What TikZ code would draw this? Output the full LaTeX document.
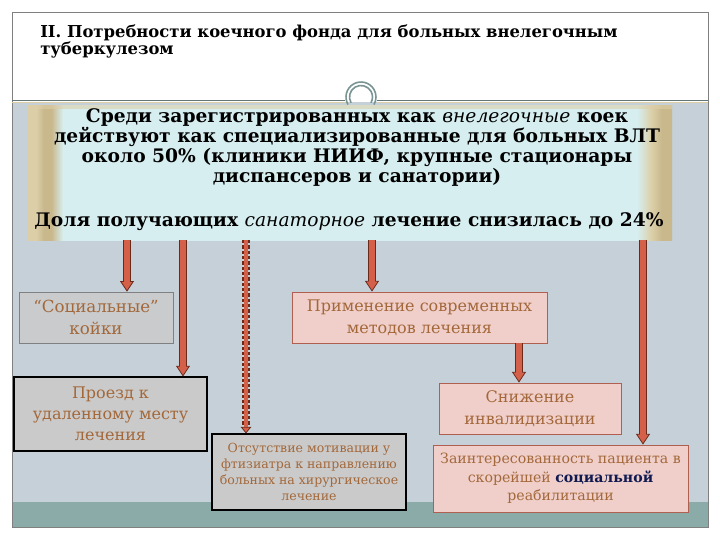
\documentclass[tikz,border=0pt]{standalone}
\usepackage{fontspec}
\setmainfont{DejaVu Serif}
\usetikzlibrary{arrows.meta,fit}
\definecolor{panelbg}{HTML}{C5D0D8}
\definecolor{bandbg}{HTML}{8BABA9}
\definecolor{framegray}{HTML}{808080}
\definecolor{txtbrown}{HTML}{A3683A}
\definecolor{pinkfill}{HTML}{F0CFCB}
\definecolor{pinkedge}{HTML}{B06050}
\definecolor{grayfill}{HTML}{CACACA}
\definecolor{arrred}{HTML}{D5604A}
\definecolor{arrdark}{HTML}{6A2A1A}
\definecolor{beige}{HTML}{DCCFA8}
\definecolor{tan}{HTML}{C9B88C}
\definecolor{lcyan}{HTML}{D6EEF0}
\definecolor{ornament}{HTML}{7A9494}
\definecolor{navy}{HTML}{101A50}
\pgfdeclarehorizontalshading{topshade}{100bp}{color(0bp)=(beige); color(25bp)=(beige); color(25.7bp)=(beige); color(26.3bp)=(tan); color(26.9bp)=(tan); color(27.8bp)=(lcyan); color(72.3bp)=(lcyan); color(73.4bp)=(beige); color(74.2bp)=(tan); color(100bp)=(tan)}
\tikzset{
  graybox/.style={draw=black, fill=grayfill, line width=0.8pt, inner sep=0pt},
  lightbox/.style={draw=framegray, fill=grayfill!80!panelbg, line width=0.5pt, inner sep=0pt},
  pinkbox/.style={draw=pinkedge, fill=pinkfill, line width=0.6pt, inner sep=0pt},
  boxtext/.style={align=center, inner sep=0pt, text=txtbrown},
  fatout/.style={draw=arrdark, line width=6pt, -{Triangle[width=10.5pt,length=8pt,line width=0.6pt,fill=arrred]}},
  fatin/.style={draw=arrred, line width=4.5pt, shorten >=7.4pt},
  dashout/.style={draw=arrdark, line width=6pt, dash pattern=on 2.5pt off 1.5pt, -{Triangle[width=8pt,length=5pt,line width=0.6pt,fill=arrred]}},
  dashin/.style={draw=arrred, line width=3.5pt, shorten >=5pt}
}
\begin{document}
\begin{tikzpicture}[x=0.75pt,y=-0.75pt]
\useasboundingbox (0,0) rectangle (720,540);
\fill[white] (0,0) rectangle (720,540);
% panel and band
\fill[panelbg] (12,102) rectangle (708,527);
\fill[bandbg] (12,502) rectangle (708,527);
% frame
\draw[framegray, line width=0.7pt] (12,12) rectangle (708,527);
% top separator with ornament
\draw[ornament!80!black, line width=0.6pt] (12,100) -- (345,100);
\draw[ornament!80!black, line width=0.6pt] (377,100) -- (708,100);
\draw[beige, line width=1.2pt] (12,102.5) -- (345,102.5);
\draw[beige, line width=1.2pt] (377,102.5) -- (708,102.5);
\draw[ornament, line width=1.2pt] (361,97) ++(150:15) arc[start angle=150, end angle=390, radius=15];
\draw[ornament, line width=1.2pt] (361,97) ++(150:11.5) arc[start angle=150, end angle=390, radius=11.5];
% title
\node[anchor=north west, align=left, inner sep=0pt, font=\fontsize{12.3}{12}\selectfont\bfseries] (title) at (40,24)
 {II. Потребности коечного фонда для больных внелегочным\\туберкулезом};
% top text box
\node[fit={(27,105) (672,240)}, inner sep=0pt, shading=topshade] (topbox) {};
\fill[beige, opacity=0.6] (27,105) rectangle (672,109);
\node[align=center, inner sep=0pt, font=\fontsize{14}{15}\selectfont\bfseries] (toptext) at (357,148)
 {Среди зарегистрированных как \textit{\mdseries внелегочные} коек\\
  действуют как специализированные для больных ВЛТ\\
  около 50\% (клиники НИИФ, крупные стационары\\
  диспансеров и санатории)};
\node[inner sep=0pt, font=\fontsize{14}{15}\selectfont\bfseries] (toptext2) at (349,222)
 {Доля получающих \textit{\mdseries санаторное} лечение снизилась до 24\%};
% boxes
\node[lightbox, fit={(19,292) (173,343)}] (social) {};
\node[boxtext, font=\fontsize{12.5}{17}\selectfont] (socialt) at (social.center) {“Социальные”\\койки};
\node[graybox, fit={(14,377) (207,451)}] (proezd) {};
\node[boxtext, font=\fontsize{12}{15.75}\selectfont] (proezdt) at (proezd.center) {Проезд к\\удаленному месту\\лечения};
\node[graybox, fit={(212,434) (406,510)}] (motiv) {};
\node[boxtext, font=\fontsize{9.4}{12}\selectfont] (motivt) at (motiv.center) {Отсутствие мотивации у\\фтизиатра к направлению\\больных на хирургическое\\лечение};
\node[pinkbox, fit={(292,292) (547,343)}] (primen) {};
\node[boxtext, font=\fontsize{12}{16.5}\selectfont] (priment) at (primen.center) {Применение современных\\методов лечения};
\node[pinkbox, fit={(439,383) (621,434)}] (snizh) {};
\node[boxtext, font=\fontsize{12}{16.5}\selectfont] (snizht) at (snizh.center) {Снижение\\инвалидизации};
\node[pinkbox, fit={(433,445) (688,512)}] (zainter) {};
\node[boxtext, font=\fontsize{10.6}{14}\selectfont] (zaintert) at (zainter.center) {Заинтересованность пациента в\\скорейшей \textcolor{navy}{\bfseries социальной}\\реабилитации};
% arrow start points on the top box
\coordinate (s1) at (127,240);
\coordinate (s2) at (183,240);
\coordinate (s3) at (246,240);
\coordinate (s4) at (372,240);
\coordinate (s6) at (643,240);
\coordinate (s5) at (519,343);
% arrows
\foreach \s/\t in {s1/social, s2/proezd, s4/primen, s6/zainter, s5/snizh}{
  \draw[fatout] (\s) -- (\s |- \t.north);
  \draw[fatin] (\s) -- (\s |- \t.north);
}
\draw[dashout] (s3) -- (s3 |- motiv.north);
\draw[dashin] (s3) -- (s3 |- motiv.north);
\end{tikzpicture}
\end{document}
